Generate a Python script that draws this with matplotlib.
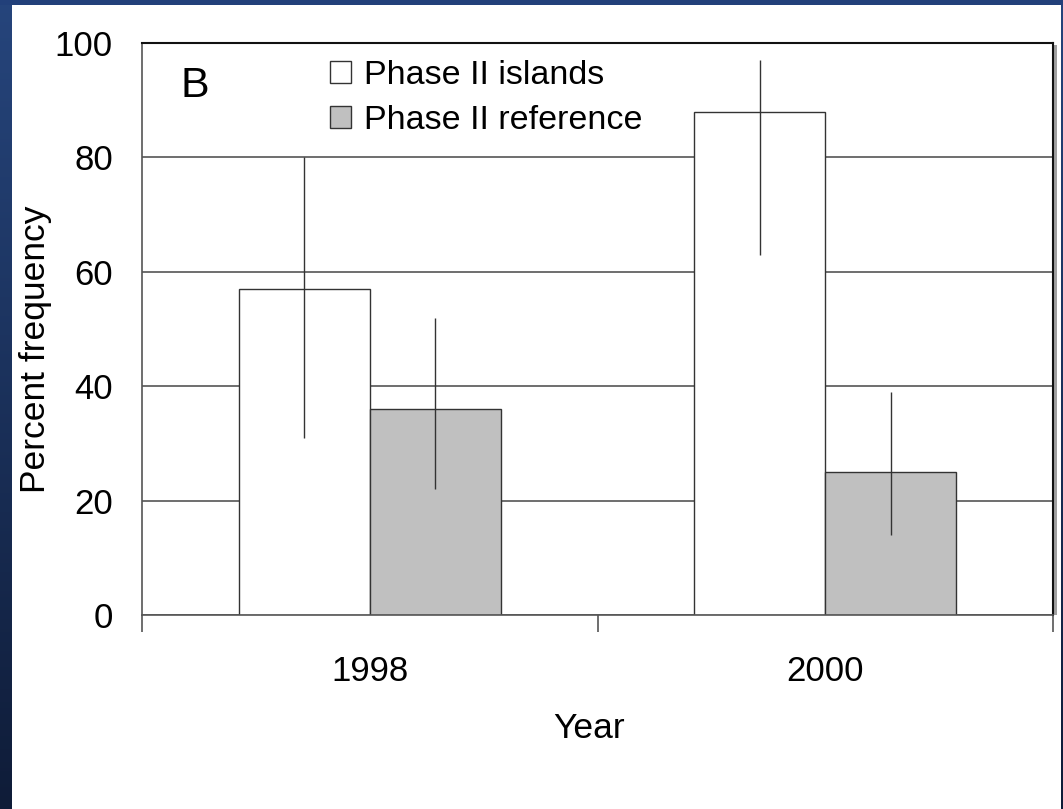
import matplotlib
matplotlib.use('Agg')
import matplotlib.pyplot as plt
import numpy as np

years = ['1998', '2000']
islands = [57, 88]
islands_lo = [31, 63]
islands_hi = [80, 97]
reference = [36, 25]
reference_lo = [22, 14]
reference_hi = [52, 39]
y_ticks = [0, 20, 40, 60, 80, 100]

plt.rcParams['font.family'] = ['Liberation Sans', 'DejaVu Sans']

W, H = 1063, 809
fig = plt.figure(figsize=(W / 100, H / 100), dpi=100, facecolor='white')

# blue slide border (left gradient, top and right strips)
bg = fig.add_axes([0, 0, 1, 1], zorder=-10)
bg.set_axis_off()
bg.set_xlim(0, W); bg.set_ylim(H, 0)
grad = np.linspace(0, 1, 256).reshape(-1, 1)
cmap = matplotlib.colors.LinearSegmentedColormap.from_list('b', ['#26457c', '#0f1c38'])
bg.imshow(grad, cmap=cmap, extent=[0, 12, H, 0], aspect='auto')
bg.add_patch(plt.Rectangle((0, 0), W, 5, color='#22407a', lw=0))
bg.imshow(grad, cmap=cmap, extent=[1061, W, H, 0], aspect='auto')
# grey shadow right of the plot frame
bg.add_patch(plt.Rectangle((1054, 45), 3, 570, color='#a0a0a0', lw=0))

ax = fig.add_axes([142 / W, 1 - 615 / H, (1053 - 142) / W, (615 - 43) / H])
x = np.arange(len(years))
w = 0.288

for i in range(len(years)):
    ax.bar(x[i] - w / 2, islands[i], w, color='white', edgecolor='#333333', lw=1, zorder=2)
    ax.bar(x[i] + w / 2, reference[i], w, color='#c0c0c0', edgecolor='#333333', lw=1, zorder=2)

ax.errorbar(x - w / 2, islands,
            yerr=[np.subtract(islands, islands_lo), np.subtract(islands_hi, islands)],
            fmt='none', ecolor='#333333', elinewidth=1, capsize=0, zorder=3)
ax.errorbar(x + w / 2, reference,
            yerr=[np.subtract(reference, reference_lo), np.subtract(reference_hi, reference)],
            fmt='none', ecolor='#333333', elinewidth=1, capsize=0, zorder=3)

ax.set_xlim(-0.5, 1.5)
ax.set_ylim(0, 100)
ax.set_yticks(y_ticks)
ax.yaxis.grid(True, color='#555555', lw=1.2, zorder=0)
ax.set_axisbelow(True)
ax.tick_params(axis='y', length=0, pad=21, labelsize=25)

# category boundary ticks below the axis
ax.set_xticks([-0.5, 0.5, 1.5])
ax.set_xticklabels([])
ax.tick_params(axis='x', direction='out', length=12, color='#555555', width=1.2)
for i, yr in enumerate(years):
    ax.text(x[i], -9.8, yr, ha='center', va='center', fontsize=25)

for s in ['left', 'bottom']:
    ax.spines[s].set_color('#555555')
    ax.spines[s].set_linewidth(1.2)
for s in ['top', 'right']:
    ax.spines[s].set_color('#111111')
    ax.spines[s].set_linewidth(1.5)

ax.set_ylabel('Percent frequency', fontsize=25.5)
ax.yaxis.set_label_coords(-0.099, 0.465)
ax.text(-0.415, 92.5, 'B', fontsize=31, va='center', ha='left')
fig.text(589 / W, 1 - 728 / H, 'Year', ha='center', va='center', fontsize=25.5)

h1 = plt.Rectangle((0, 0), 1, 1, facecolor='white', edgecolor='#333333', lw=1)
h2 = plt.Rectangle((0, 0), 1, 1, facecolor='#c0c0c0', edgecolor='#333333', lw=1)
ax.legend([h1, h2], ['Phase II islands', 'Phase II reference'], loc='upper left',
          bbox_to_anchor=(0.206, 0.970), frameon=False, fontsize=24.5,
          handlelength=0.62, handleheight=0.62, handletextpad=0.38, labelspacing=0.40,
          borderaxespad=0, borderpad=0)

fig.savefig('out.png', dpi=100, facecolor='white')
